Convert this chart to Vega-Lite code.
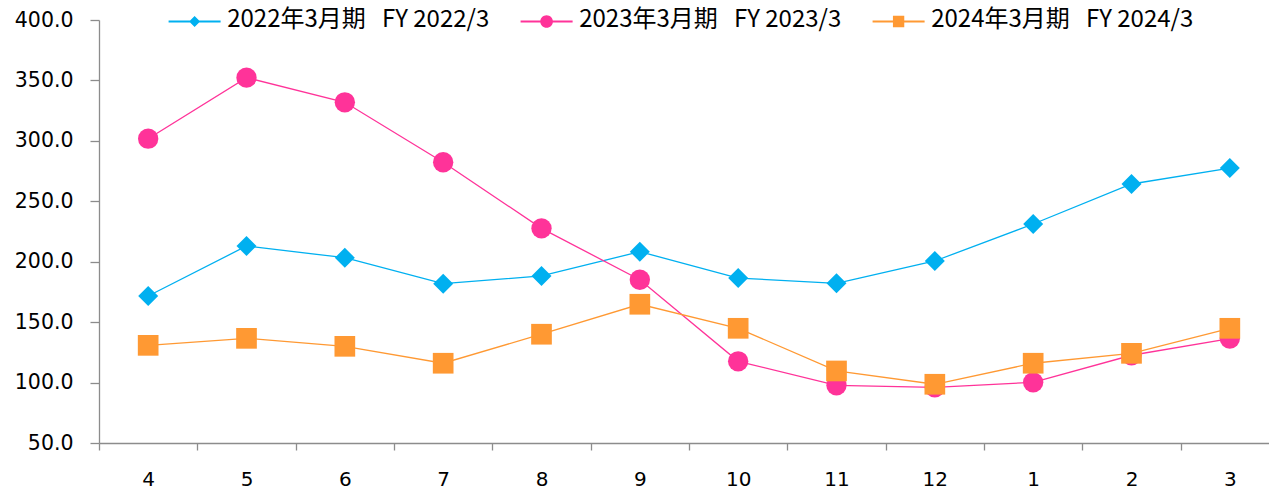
{
  "$schema": "https://vega.github.io/schema/vega-lite/v6.json",
  "autosize": "none",
  "width": 1180,
  "height": 423,
  "padding": {"left": 99, "top": 20, "right": 0, "bottom": 48},
  "background": "white",
  "config": {"view": {"stroke": null}},
  "data": {"values": [
    {"m": "4", "s": "2022年3月期\u00a0\u00a0\u00a0FY 2022/3", "v": 171.6},
    {"m": "5", "s": "2022年3月期\u00a0\u00a0\u00a0FY 2022/3", "v": 213.0},
    {"m": "6", "s": "2022年3月期\u00a0\u00a0\u00a0FY 2022/3", "v": 203.3},
    {"m": "7", "s": "2022年3月期\u00a0\u00a0\u00a0FY 2022/3", "v": 181.8},
    {"m": "8", "s": "2022年3月期\u00a0\u00a0\u00a0FY 2022/3", "v": 188.2},
    {"m": "9", "s": "2022年3月期\u00a0\u00a0\u00a0FY 2022/3", "v": 208.3},
    {"m": "10", "s": "2022年3月期\u00a0\u00a0\u00a0FY 2022/3", "v": 186.5},
    {"m": "11", "s": "2022年3月期\u00a0\u00a0\u00a0FY 2022/3", "v": 182.1},
    {"m": "12", "s": "2022年3月期\u00a0\u00a0\u00a0FY 2022/3", "v": 200.6},
    {"m": "1", "s": "2022年3月期\u00a0\u00a0\u00a0FY 2022/3", "v": 231.2},
    {"m": "2", "s": "2022年3月期\u00a0\u00a0\u00a0FY 2022/3", "v": 264.3},
    {"m": "3", "s": "2022年3月期\u00a0\u00a0\u00a0FY 2022/3", "v": 277.5},
    {"m": "4", "s": "2023年3月期\u00a0\u00a0\u00a0FY 2023/3", "v": 301.8},
    {"m": "5", "s": "2023年3月期\u00a0\u00a0\u00a0FY 2023/3", "v": 352.3},
    {"m": "6", "s": "2023年3月期\u00a0\u00a0\u00a0FY 2023/3", "v": 331.9},
    {"m": "7", "s": "2023年3月期\u00a0\u00a0\u00a0FY 2023/3", "v": 282.3},
    {"m": "8", "s": "2023年3月期\u00a0\u00a0\u00a0FY 2023/3", "v": 227.6},
    {"m": "9", "s": "2023年3月期\u00a0\u00a0\u00a0FY 2023/3", "v": 185.1},
    {"m": "10", "s": "2023年3月期\u00a0\u00a0\u00a0FY 2023/3", "v": 117.6},
    {"m": "11", "s": "2023年3月期\u00a0\u00a0\u00a0FY 2023/3", "v": 97.7},
    {"m": "12", "s": "2023年3月期\u00a0\u00a0\u00a0FY 2023/3", "v": 96.0},
    {"m": "1", "s": "2023年3月期\u00a0\u00a0\u00a0FY 2023/3", "v": 100.2},
    {"m": "2", "s": "2023年3月期\u00a0\u00a0\u00a0FY 2023/3", "v": 122.6},
    {"m": "3", "s": "2023年3月期\u00a0\u00a0\u00a0FY 2023/3", "v": 136.4},
    {"m": "4", "s": "2024年3月期\u00a0\u00a0\u00a0FY 2024/3", "v": 130.8},
    {"m": "5", "s": "2024年3月期\u00a0\u00a0\u00a0FY 2024/3", "v": 136.6},
    {"m": "6", "s": "2024年3月期\u00a0\u00a0\u00a0FY 2024/3", "v": 130.0},
    {"m": "7", "s": "2024年3月期\u00a0\u00a0\u00a0FY 2024/3", "v": 116.0},
    {"m": "8", "s": "2024年3月期\u00a0\u00a0\u00a0FY 2024/3", "v": 140.0},
    {"m": "9", "s": "2024年3月期\u00a0\u00a0\u00a0FY 2024/3", "v": 164.8},
    {"m": "10", "s": "2024年3月期\u00a0\u00a0\u00a0FY 2024/3", "v": 144.9},
    {"m": "11", "s": "2024年3月期\u00a0\u00a0\u00a0FY 2024/3", "v": 109.6},
    {"m": "12", "s": "2024年3月期\u00a0\u00a0\u00a0FY 2024/3", "v": 98.6},
    {"m": "1", "s": "2024年3月期\u00a0\u00a0\u00a0FY 2024/3", "v": 116.0},
    {"m": "2", "s": "2024年3月期\u00a0\u00a0\u00a0FY 2024/3", "v": 124.2},
    {"m": "3", "s": "2024年3月期\u00a0\u00a0\u00a0FY 2024/3", "v": 144.9}
  ]},
  "encoding": {
    "x": {
      "field": "m", "type": "nominal",
      "sort": ["4","5","6","7","8","9","10","11","12","1","2","3"],
      "scale": {"type": "band", "paddingInner": 0, "paddingOuter": 0},
      "axis": {
        "title": null, "labelAngle": 0, "tickBand": "extent",
        "domainColor": "#8c8c8c", "domainWidth": 1.3,
        "tickColor": "#8c8c8c", "tickWidth": 1.3, "tickSize": 7,
        "labelFont": "DejaVu Sans", "labelFontSize": 20, "labelColor": "#000000",
        "labelPadding": 19, "grid": false
      }
    },
    "y": {
      "field": "v", "type": "quantitative",
      "scale": {"domain": [50, 400], "nice": false, "zero": false},
      "axis": {
        "title": null, "values": [50,100,150,200,250,300,350,400], "format": ".1f",
        "domainColor": "#8c8c8c", "domainWidth": 1.3,
        "tickColor": "#8c8c8c", "tickWidth": 1.3, "tickSize": 9,
        "labelFont": "DejaVu Sans", "labelFontSize": 20.5, "labelColor": "#000000",
        "labelPadding": 17, "grid": false
      }
    },
    "color": {
      "field": "s", "type": "nominal",
      "scale": {"range": ["#00B0F0", "#FF3399", "#FF9933"]},
      "legend": {
        "title": null, "orient": "none", "direction": "horizontal",
        "legendX": 83.6, "legendY": -10.5,
        "symbolSize": 121, "labelOffset": 20.6, "columnPadding": 30,
        "labelFont": "Noto Sans CJK JP", "labelFontSize": 24, "labelColor": "#000000",
        "labelLimit": 500, "labelBaseline": "middle",
        "encode": {
          "labels": {"update": {"dy": {"value": -2}}},
          "symbols": {
            "update": {
              "shape": {"signal": "['M-4.73,-0.16H4.73V0.16H-4.73ZM-1,0L0,-1L1,0L0,1Z','M-4.73,-0.16H4.73V0.16H-4.73ZM1.15,0A1.15,1.15,0,1,1,-1.15,0A1.15,1.15,0,1,1,1.15,0Z','M-4.73,-0.16H4.73V0.16H-4.73ZM-1.03,-1.03H1.03V1.03H-1.03Z'][datum.index]"},
              "size": {"value": 121},
              "fill": {"signal": "['#00B0F0','#FF3399','#FF9933'][datum.index]"},
              "fillOpacity": {"value": 1},
              "strokeWidth": {"value": 0}
            }
          }
        }
      }
    }
  },
  "layer": [
    {
      "mark": {"type": "line", "strokeWidth": 1.3}
    },
    {
      "mark": {"type": "point", "filled": true, "opacity": 1, "size": 400},
      "encoding": {
        "shape": {
          "field": "s", "type": "nominal",
          "scale": {"range": ["diamond", "circle", "square"]}
        },
        "size": {
          "field": "s", "type": "nominal", "legend": null,
          "scale": {"range": [400, 428, 361]}
        }
      }
    }
  ]
}
